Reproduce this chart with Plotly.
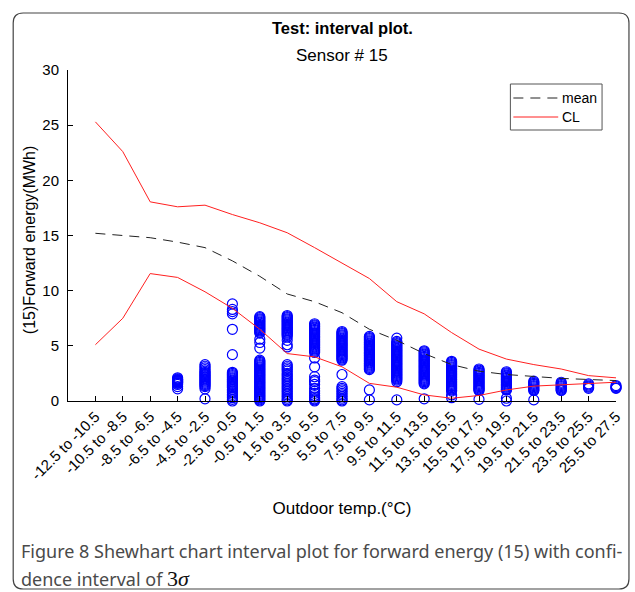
import plotly.graph_objects as go

# ---------------- data ----------------
categories = ["-12.5 to -10.5", "-10.5 to -8.5", "-8.5 to -6.5", "-6.5 to -4.5",
              "-4.5 to -2.5", "-2.5 to -0.5", "-0.5 to 1.5", "1.5 to 3.5",
              "3.5 to 5.5", "5.5 to 7.5", "7.5 to 9.5", "9.5 to 11.5",
              "11.5 to 13.5", "13.5 to 15.5", "15.5 to 17.5", "17.5 to 19.5",
              "19.5 to 21.5", "21.5 to 23.5", "23.5 to 25.5", "25.5 to 27.5"]

mean_vals = [15.2, 15.0, 14.8, 14.4, 13.9, 12.7, 11.3, 9.7, 9.0, 8.0,
             6.5, 5.5, 4.3, 3.3, 2.7, 2.4, 2.2, 2.05, 1.95, 1.85]
cl_upper = [25.3, 22.6, 18.05, 17.6, 17.75, 16.9, 16.15, 15.25, 13.9, 12.5,
            11.1, 9.0, 7.9, 6.2, 4.7, 3.8, 3.3, 2.9, 2.3, 2.1]
cl_lower = [5.1, 7.5, 11.55, 11.2, 9.9, 8.4, 6.5, 4.3, 4.0, 3.1,
            1.6, 1.25, 0.55, 0.25, 0.5, 1.0, 1.35, 1.45, 1.6, 1.7]

legend_labels = ["mean", "CL"]

obs_01 = []
obs_02 = []
obs_03 = []
obs_04 = [2.1, 2.0, 1.95, 1.9, 1.85, 1.8, 1.75, 1.7, 1.65, 1.6, 1.5, 1.3, 1.1]
obs_05 = [3.3, 3.15, 3.0, 2.85, 2.7, 2.6, 2.5, 2.4, 2.3, 2.2, 2.1, 2.0, 1.9,
          1.8, 1.7, 1.6, 1.5, 1.4, 1.3, 1.1, 0.2]
obs_06 = [8.8, 8.3, 8.1, 7.9, 6.5, 4.2,
          2.6, 2.5, 2.4, 2.3, 2.2, 2.1, 2.0, 1.9, 1.8, 1.7, 1.6, 1.5, 1.4,
          1.3, 1.2, 1.05, 0.9, 0.75, 0.6, 0.45, 0.3, 0.15, 0.0]
obs_07 = [7.65, 7.55, 7.45, 7.35, 7.25, 7.15, 7.05, 6.95, 6.85, 6.75, 6.65,
          6.55, 6.45, 6.35, 6.25, 6.15,
          5.6, 5.3, 4.8,
          3.7, 3.6, 3.5, 3.4, 3.3, 3.2, 3.1, 3.0, 2.9, 2.8, 2.7, 2.6, 2.5,
          2.4, 2.3, 2.2, 2.1, 2.0, 1.9, 1.8, 1.7, 1.6, 1.5, 1.4, 1.3, 1.2,
          1.1, 1.0, 0.9, 0.8, 0.7, 0.6, 0.5, 0.4, 0.3, 0.2, 0.1, 0.0]
obs_08 = [7.75, 7.65, 7.55, 7.45, 7.35, 7.25, 7.15, 7.05, 6.95, 6.85, 6.75,
          6.65, 6.55, 6.45, 6.35, 6.25, 6.15, 6.05, 5.95,
          5.8, 5.5, 5.1, 4.9,
          3.3, 3.15, 3.0, 2.85, 2.7, 2.5, 2.35, 2.2, 2.05, 1.9, 1.75, 1.6,
          1.45, 1.3, 1.15, 1.0, 0.85, 0.7, 0.55, 0.4, 0.25, 0.1, 0.0]
obs_09 = [7.0, 6.9, 6.8, 6.7, 6.6, 6.5, 6.4, 6.3, 6.2, 6.1, 6.0, 5.9, 5.8,
          5.7, 5.6, 5.5, 5.4, 5.3, 5.2, 5.1, 5.0, 4.9, 4.8, 4.7, 4.6, 4.5,
          4.4, 3.9, 3.1,
          2.2, 1.9, 1.75, 1.5, 1.15, 0.9, 0.7, 0.5, 0.35, 0.2, 0.1, 0.0]
obs_10 = [6.3, 6.2, 6.1, 6.0, 5.9, 5.8, 5.7, 5.6, 5.5, 5.4, 5.3, 5.2, 5.1,
          5.0, 4.9, 4.8, 4.7, 4.6, 4.5, 4.4, 4.3, 4.2, 4.1, 4.0, 3.9, 3.8,
          3.7, 2.4,
          1.3, 1.15, 1.0, 0.85, 0.7, 0.55, 0.4, 0.25, 0.1, 0.0]
obs_11 = [5.85, 5.75, 5.65, 5.55, 5.45, 5.35, 5.25, 5.15, 5.05, 4.95, 4.85,
          4.75, 4.65, 4.55, 4.45, 4.35, 4.25, 4.15, 4.05, 3.95, 3.85, 3.75,
          3.65, 3.55, 3.45, 3.35, 3.25, 3.15, 3.05, 2.95, 2.85, 1.0, 0.1]
obs_12 = [5.7, 5.4, 5.3, 5.2, 5.1, 5.0, 4.9, 4.8, 4.7, 4.6, 4.5, 4.4, 4.3,
          4.2, 4.1, 4.0, 3.9, 3.8, 3.7, 3.6, 3.5, 3.4, 3.3, 3.2, 3.1, 3.0,
          2.9, 2.8, 2.7, 2.6, 2.5, 2.4, 2.3, 2.2, 2.1, 2.0, 1.9, 1.75, 0.1]
obs_13 = [4.55, 4.45, 4.35, 4.25, 4.15, 4.05, 3.95, 3.85, 3.75, 3.65, 3.55,
          3.45, 3.35, 3.25, 3.15, 3.05, 2.95, 2.85, 2.75, 2.65, 2.55, 2.45,
          2.35, 2.25, 2.15, 2.05, 1.95, 1.85, 1.75, 1.65, 1.55, 0.2]
obs_14 = [3.6, 3.5, 3.4, 3.3, 3.2, 3.1, 3.0, 2.9, 2.8, 2.7, 2.6, 2.5, 2.4,
          2.3, 2.2, 2.1, 2.0, 1.9, 1.8, 1.7, 1.6, 1.5, 1.4, 1.3, 1.2, 1.1,
          1.0, 0.9, 0.55, 0.3]
obs_15 = [2.9, 2.8, 2.7, 2.6, 2.5, 2.4, 2.3, 2.2, 2.1, 2.0, 1.9, 1.8, 1.7,
          1.6, 1.5, 1.4, 1.3, 1.2, 1.1, 1.0, 0.95, 0.15]
obs_16 = [2.65, 2.55, 2.45, 2.35, 2.25, 2.15, 2.05, 1.95, 1.85, 1.75, 1.65,
          1.55, 1.45, 1.35, 1.25, 1.15, 1.05, 1.0, 0.25, 0.0]
obs_17 = [1.8, 1.7, 1.6, 1.5, 1.4, 1.3, 1.2, 1.1, 1.0, 0.95, 0.1]
obs_18 = [1.7, 1.6, 1.5, 1.4, 1.3, 1.2, 1.1, 1.0, 0.95]
obs_19 = [1.55, 1.45, 1.35, 1.25, 1.15]
obs_20 = [1.4, 1.3, 1.2, 1.15]

observations = [obs_01, obs_02, obs_03, obs_04, obs_05, obs_06, obs_07,
                obs_08, obs_09, obs_10, obs_11, obs_12, obs_13, obs_14,
                obs_15, obs_16, obs_17, obs_18, obs_19, obs_20]

# ---------------- figure ----------------
W, H = 635, 592
L, R, T, B = 68, 17, 70, 191
pw, ph = W - L - R, H - T - B

def px(xp):
    return (xp - L) / pw

def py(yp):
    return (H - B - yp) / ph

xpos = list(range(1, len(categories) + 1))
sx, sy = [], []
for i, vals in enumerate(observations):
    for v in vals:
        sx.append(xpos[i])
        sy.append(v)

SANS = "Arial"
MEAN_LINE = dict(color="#222222", width=1, dash="10px,7px")
CL_LINE = dict(color="#ff2020", width=1)

fig = go.Figure()
fig.add_trace(go.Scatter(
    x=sx, y=sy, mode="markers", showlegend=False,
    marker=dict(symbol="circle-open", size=10, color="#0000ff",
                line=dict(width=1.2, color="#0000ff")),
    cliponaxis=False))
fig.add_trace(go.Scatter(x=xpos, y=mean_vals, mode="lines", name="mean",
                         showlegend=False, line=MEAN_LINE))
fig.add_trace(go.Scatter(x=xpos, y=cl_upper, mode="lines", name="CL",
                         showlegend=False, line=CL_LINE))
fig.add_trace(go.Scatter(x=xpos, y=cl_lower, mode="lines", name="CL",
                         showlegend=False, line=CL_LINE))

fig.update_layout(
    width=W, height=H,
    margin=dict(l=L, r=R, t=T, b=B, pad=0),
    paper_bgcolor="white", plot_bgcolor="white",
    font=dict(family=SANS, size=14, color="#000"),
    showlegend=False,
    xaxis=dict(range=[0, 20], tickmode="array", tickvals=xpos,
               ticktext=categories, tickangle=-45,
               showline=True, linecolor="black", linewidth=1,
               ticks="inside", ticklen=5, tickcolor="black",
               showgrid=False, zeroline=False,
               tickfont=dict(family=SANS, size=15),
               title=dict(text="Outdoor temp.(°C)", standoff=20,
                          font=dict(family=SANS, size=17))),
    yaxis=dict(range=[0, 30], dtick=5,
               showline=True, linecolor="black", linewidth=1,
               ticks="inside", ticklen=5, tickcolor="black",
               showgrid=False, zeroline=False, ticklabelstandoff=5,
               tickfont=dict(family=SANS, size=15)),
)

# y-axis title
fig.add_annotation(text="(15)Forward energy(MWh)", xref="paper", yref="paper",
                   x=px(30), y=py(240), xanchor="center", yanchor="middle",
                   textangle=-90, showarrow=False,
                   font=dict(family=SANS, size=16))

# titles
fig.add_annotation(text="<b>Test: interval plot.</b>", xref="paper", yref="paper",
                   x=0.5, y=py(28), xanchor="center", yanchor="middle",
                   showarrow=False, font=dict(family=SANS, size=16.5))
fig.add_annotation(text="Sensor # 15", xref="paper", yref="paper",
                   x=0.5, y=py(56), xanchor="center", yanchor="middle",
                   showarrow=False, font=dict(family=SANS, size=17))

# legend box (drawn manually to match the original layout)
lx0, lx1, ly0, ly1 = 512, 604, 84, 130
fig.add_shape(type="rect", xref="paper", yref="paper",
              x0=px(lx0), x1=px(lx1), y0=py(ly1), y1=py(ly0),
              line=dict(color="#555", width=1), fillcolor="white", layer="above")
for k, (lab, sty) in enumerate(zip(legend_labels, [MEAN_LINE, CL_LINE])):
    yy = 98 + k * 19
    fig.add_shape(type="line", xref="paper", yref="paper",
                  x0=px(515), x1=px(560), y0=py(yy), y1=py(yy),
                  line=sty, layer="above")
    fig.add_annotation(text=lab, xref="paper", yref="paper",
                       x=px(562), y=py(yy), xanchor="left", yanchor="middle",
                       showarrow=False, font=dict(family=SANS, size=14))

# caption
cap_font = dict(family="Noto Sans", size=18, color="#4a4a4a")
fig.add_annotation(text="Figure 8 Shewhart chart interval plot for forward energy (15) with confi-",
                   xref="paper", yref="paper", x=px(19), y=py(551),
                   xanchor="left", yanchor="middle", showarrow=False, font=cap_font)
fig.add_annotation(text="dence interval of <span style='font-family:Liberation Serif;font-size:22px;color:#111'>3<i>σ</i></span>",
                   xref="paper", yref="paper", x=px(19), y=py(578),
                   xanchor="left", yanchor="middle", showarrow=False, font=cap_font)

# frame with rounded corners
x0, x1, y0, y1, r = 13, 631, 13, 589, 10
def pt(a, b):
    return f"{px(a):.5f},{py(b):.5f}"
path = (f"M {pt(x0 + r, y0)} L {pt(x1 - r, y0)} Q {pt(x1, y0)} {pt(x1, y0 + r)} "
        f"L {pt(x1, y1 - r)} Q {pt(x1, y1)} {pt(x1 - r, y1)} "
        f"L {pt(x0 + r, y1)} Q {pt(x0, y1)} {pt(x0, y1 - r)} "
        f"L {pt(x0, y0 + r)} Q {pt(x0, y0)} {pt(x0 + r, y0)} Z")
fig.add_shape(type="path", path=path, xref="paper", yref="paper",
              line=dict(color="#444", width=1.2), fillcolor="rgba(0,0,0,0)",
              layer="below")

fig.write_html("out.html")
